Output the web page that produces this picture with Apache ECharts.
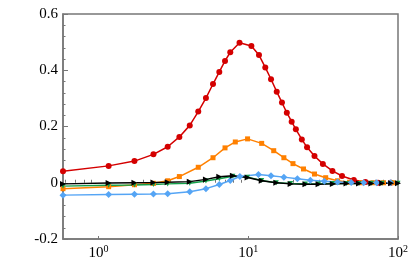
<!DOCTYPE html>
<html><head><meta charset="utf-8">
<script src="https://cdn.jsdelivr.net/npm/echarts@6/dist/echarts.min.js"></script>
<style>html,body{margin:0;padding:0;background:#fff}#c{width:415px;height:277px}</style>
</head><body><div id="c"></div>
<script>
const xMajorTicks = [1, 10, 100];
const xMinorTicks = [0.6,0.7,0.8,0.9,2,3,4,5,6,7,8,9,20,30,40,50,60,70,80,90];
const yTicks = [-0.2, 0, 0.2, 0.4, 0.6];

const redX = [0.58,1.17,1.74,2.33,2.9,3.47,4.07,4.64,5.22,5.82,6.41,7.0,7.59,8.75,10.5,11.8,13.0,14.2,15.5,16.8,18.1,19.5,20.8,22.8,24.7,27.7,31.5,36.5,42.3,50.7,60.6,73.6,89.4];
const redY = [0.041,0.060,0.077,0.101,0.128,0.163,0.204,0.253,0.301,0.351,0.394,0.433,0.464,0.498,0.486,0.454,0.410,0.368,0.324,0.285,0.249,0.217,0.190,0.154,0.126,0.095,0.067,0.042,0.024,0.010,0.003,0.000,0.000];

const orangeX = [0.58,1.17,1.74,2.33,2.9,3.47,4.64,5.82,7.0,8.2,9.9,12.3,14.8,17.3,19.9,23.4,27.7,32.9,39.5,47.5,57,68,80,92];
const orangeY = [-0.021,-0.014,-0.007,-0.002,0.007,0.022,0.055,0.089,0.124,0.145,0.156,0.140,0.114,0.089,0.068,0.049,0.031,0.018,0.007,0.002,0.000,0.000,0.000,0.000];

const greenX = [0.58,1.17,1.74,2.33,2.9,4.07,5.22,6.41,7.9,9.9,12.3,15.4,19.2,24.1,29.5,36.7,45.3,54.9,66.4,78.4,89.9,100];
const greenY = [-0.012,-0.009,-0.008,-0.006,-0.004,-0.002,0.006,0.014,0.023,0.020,0.008,0.000,-0.003,-0.004,-0.004,-0.003,-0.003,-0.003,-0.002,-0.002,-0.002,-0.002];

const blueX = [0.58,1.17,1.74,2.33,2.9,4.07,5.22,6.41,7.59,8.8,11.7,14.2,17.3,21.3,26.0,32.2,39.5,48.7,59,72,89];
const blueY = [-0.044,-0.042,-0.041,-0.040,-0.039,-0.032,-0.021,-0.006,0.008,0.022,0.029,0.025,0.020,0.014,0.009,0.005,0.003,0.001,0.000,0.000,0.000];

const blackX = [0.58,1.17,1.74,2.33,2.9,4.07,5.22,6.41,7.9,9.9,12.3,15.4,19.2,24.1,29.5,36.7,45.3,54.9,66.4,78.4,89.9,100];
const blackY = [-0.004,-0.001,0.000,0.001,0.002,0.004,0.012,0.021,0.025,0.019,0.007,0.000,-0.004,-0.005,-0.005,-0.004,-0.003,-0.003,-0.003,-0.002,-0.002,-0.002];

const zip = (xs, ys) => xs.map((x, i) => [x, ys[i]]);
const FONT = '"Liberation Serif", "DejaVu Serif", serif';
const AXIS_COLOR = '#777';

function mk(name, xs, ys, color, symbol, size, rot) {
  return {
    name, type: 'line', data: zip(xs, ys), xAxisIndex: 0, yAxisIndex: 0,
    symbol, symbolSize: size, symbolRotate: rot || 0, showSymbol: true,
    lineStyle: { color, width: 1.5 }, itemStyle: { color },
    animation: false, z: 3
  };
}

const chart = echarts.init(document.getElementById('c'), null, { renderer: 'canvas' });
chart.setOption({
  backgroundColor: '#fff',
  animation: false,
  grid: { left: 63, top: 14, right: 17, bottom: 38, show: true, borderColor: AXIS_COLOR, borderWidth: 1.5, containLabel: false },
  xAxis: [{
    type: 'log', min: 0.58, max: 100, logBase: 10,
    axisLine: { show: true, onZero: false, lineStyle: { color: AXIS_COLOR, width: 1.5 } },
    axisTick: { show: true, inside: true, length: 3, customValues: xMajorTicks, lineStyle: { color: AXIS_COLOR } },
    minorTick: { show: false },
    splitLine: { show: false },
    axisLabel: {
      customValues: xMajorTicks, color: '#000', fontFamily: FONT, fontSize: 15, margin: 5,
      formatter: v => '10{s|' + Math.round(Math.log10(v)) + '}',
      rich: { s: { fontFamily: FONT, fontSize: 10, color: '#000', padding: [0, 0, 9, 0] } }
    }
  }, {
    type: 'log', min: 0.58, max: 100, logBase: 10, position: 'bottom',
    axisLine: { show: false },
    axisTick: { show: true, inside: true, length: 3, customValues: xMinorTicks, lineStyle: { color: AXIS_COLOR } },
    axisLabel: { show: false }, splitLine: { show: false }
  }],
  yAxis: {
    type: 'value', min: -0.2, max: 0.6, interval: 0.2,
    axisLine: { show: true, onZero: false, lineStyle: { color: AXIS_COLOR, width: 1.5 } },
    axisTick: { show: true, inside: true, length: 5, lineStyle: { color: AXIS_COLOR } },
    minorTick: { show: true, splitNumber: 5, length: 2.5, lineStyle: { color: AXIS_COLOR } },
    splitLine: { show: false },
    axisLabel: { customValues: yTicks, color: '#000', fontFamily: FONT, fontSize: 15, margin: 5,
      formatter: v => String(Math.round(v * 10) / 10) }
  },
  series: [
    mk('red', redX, redY, '#d40000', 'circle', 6),
    mk('orange', orangeX, orangeY, '#ff8000', 'rect', 5),
    mk('green', greenX, greenY, '#13a04a', 'triangle', 5, 180),
    mk('blue', blueX, blueY, '#55a5f5', 'diamond', 7),
    mk('black', blackX, blackY, '#000000', 'triangle', 6, -90)
  ]
});
</script></body></html>
